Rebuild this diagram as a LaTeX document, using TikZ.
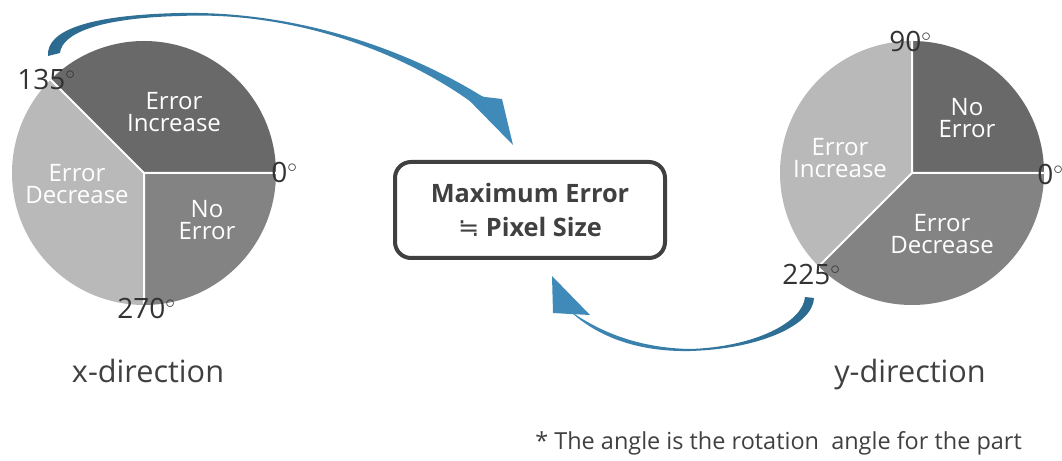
\documentclass[tikz,border=0pt]{standalone}
\usepackage{fontspec}
\setmainfont{Open Sans}
\newfontfamily\symfont{DejaVu Sans}
\usetikzlibrary{positioning}

\definecolor{sliceDark}{HTML}{696969}
\definecolor{sliceMid}{HTML}{838383}
\definecolor{sliceLight}{HTML}{B9B9B9}
\definecolor{txtGray}{HTML}{404040}
\definecolor{degGray}{HTML}{333333}
\definecolor{arrowDark}{HTML}{2C6A8F}
\definecolor{arrowHead}{HTML}{3F8AB8}

\begin{document}
\begin{tikzpicture}[
    x=0.75pt, y=0.75pt,
    sep/.style={draw=white, line width=1.5pt},
    slicetext/.style={text=white, align=center, inner sep=0pt, font=\fontsize{18}{16}\selectfont},
    deg/.style={text=degGray, inner sep=0pt, anchor=base west, font=\fontsize{21}{24}\selectfont},
    dirlabel/.style={text=txtGray, inner sep=0pt, anchor=base, font=\fontsize{23}{28}\selectfont},
    resultbox/.style={draw=txtGray, line width=3pt, rounded corners=12pt, minimum width=202.5pt, minimum height=72pt, text=txtGray, align=center, font=\bfseries\fontsize{19}{26}\selectfont},
]
\useasboundingbox (0,0) rectangle (1062,460);

\coordinate (xc) at (144,287);
\coordinate (yc) at (912,287);

% x-direction pie
\fill[sliceDark] (xc) -- ++(0:132) arc[start angle=0, end angle=135, radius=132] -- cycle;
\fill[sliceLight] (xc) -- ++(135:132) arc[start angle=135, end angle=270, radius=132] -- cycle;
\fill[sliceMid] (xc) -- ++(270:132) arc[start angle=270, end angle=360, radius=132] -- cycle;
\path[sep] (xc) -- ++(0:132) (xc) -- ++(135:132) (xc) -- ++(270:132);

% y-direction pie
\fill[sliceDark] (yc) -- ++(0:132) arc[start angle=0, end angle=90, radius=132] -- cycle;
\fill[sliceLight] (yc) -- ++(90:132) arc[start angle=90, end angle=225, radius=132] -- cycle;
\fill[sliceMid] (yc) -- ++(225:132) arc[start angle=225, end angle=360, radius=132] -- cycle;
\path[sep] (yc) -- ++(0:132) (yc) -- ++(90:132) (yc) -- ++(225:132);

\node[slicetext] (xinc) at (174,348) {Error\\Increase};
\node[slicetext] (xdec) at (77,276) {Error\\Decrease};
\node[slicetext] (xno) at (207,240) {No\\Error};
\node[slicetext] (yno) at (967,342) {No\\Error};
\node[slicetext] (yinc) at (840,302) {Error\\Increase};
\node[slicetext] (ydec) at (942,226) {Error\\Decrease};

\node[deg] (x135) at (17,370) {135$^\circ$};
\node[deg] (x0) at (271,277) {0$^\circ$};
\node[deg] (x270) at (117,141) {270$^\circ$};
\node[deg] (y90) at (889,408) {90$^\circ$};
\node[deg] (y0) at (1037,275) {0$^\circ$};
\node[deg] (y225) at (782,175) {225$^\circ$};

\node[dirlabel] (xdir) at (148,77) {x-direction};
\node[dirlabel] (ydir) at (910,77) {y-direction};

\node[resultbox] (maxerr) at (530,250) {Maximum Error\\{\symfont\mdseries ≒}\ Pixel Size};

% arrows
\coordinate (xtip) at (513,315);
\coordinate (ytip) at (552,184);

\shade[left color=arrowDark, right color=arrowHead]
    (48,404) .. controls (46,430) and (90,445) .. (180,447)
    .. controls (290,449) and (400,415) .. (484,362.5)
    -- (474,356) .. controls (400,410) and (290,449) .. (180,444)
    .. controls (100,442) and (62,427) .. (60,407) -- cycle;
\fill[arrowHead] (460,369) -- (485,363) -- (502,361) -- (xtip) -- cycle;

\shade[left color=arrowHead, right color=arrowDark]
    (814,162) .. controls (813,135) and (760,111) .. (690,109)
    .. controls (640,108) and (600,122) .. (572,147)
    -- (566,152) .. controls (600,127) and (640,112) .. (690,111)
    .. controls (755,113) and (803,138) .. (805,163) -- cycle;
\fill[arrowHead] (ytip) -- (553,147) -- (570,146) -- (590,145) -- cycle;

\node[text=txtGray, inner sep=0pt, anchor=base west, font=\fontsize{17.6}{20}\selectfont] (note) at (535,11) {* The angle is the rotation\ \ angle for the part};
\end{tikzpicture}
\end{document}
